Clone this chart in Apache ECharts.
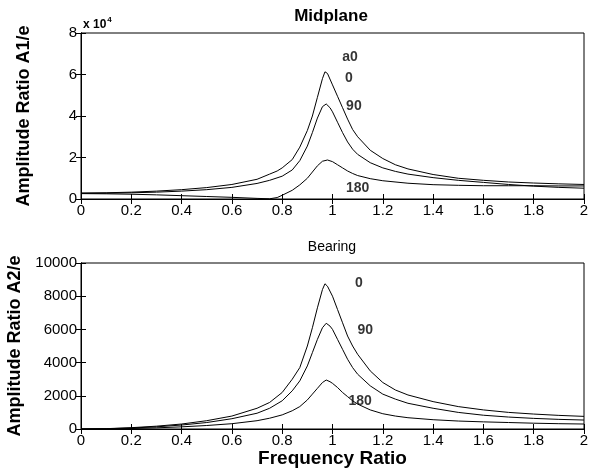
<!DOCTYPE html>
<html><head><meta charset="utf-8">
<script src="https://cdn.jsdelivr.net/npm/echarts@6/dist/echarts.min.js"></script>
<style>html,body{margin:0;padding:0;background:#fff}#c{width:591px;height:472px}</style>
</head><body><div id="c"></div>
<script>
// ---- Data ----
// Midplane (A1/e)
var midF0 = [0,0.1,0.2,0.3,0.4,0.5,0.6,0.7,0.75,0.78,0.8,0.84,0.87,0.9,0.92,0.94,0.96,0.97,0.98,1.0,1.02,1.04,1.06,1.08,1.1,1.15,1.2,1.25,1.3,1.4,1.5,1.6,1.7,1.8,1.9,2.0];
var mid0  = [2900,3000,3300,3800,4500,5500,7000,9500,12000,13500,15000,19000,25000,33000,40000,49000,58000,61300,60500,55000,49500,44000,38500,33500,30000,23500,19500,16500,14500,11800,10000,9000,8200,7700,7300,7000];
var midF90 = [0,0.1,0.2,0.3,0.4,0.5,0.6,0.7,0.75,0.8,0.84,0.87,0.9,0.92,0.94,0.96,0.975,0.99,1.0,1.02,1.04,1.06,1.08,1.1,1.15,1.2,1.25,1.3,1.4,1.5,1.6,1.7,1.8,1.9,2.0];
var mid90  = [2700,2800,3000,3300,3800,4500,5600,7500,9000,11000,14000,18500,25500,32000,39000,44500,45800,44000,42000,37000,32000,27500,24000,21500,17500,15000,13300,12000,10300,9000,8000,7000,6200,5600,5200];
var midF180 = [0,0.1,0.2,0.3,0.4,0.5,0.6,0.7,0.75,0.78,0.8,0.84,0.87,0.9,0.92,0.94,0.96,0.98,1.0,1.02,1.04,1.06,1.08,1.1,1.15,1.2,1.3,1.4,1.5,1.6,1.7,1.8,1.9,2.0];
var mid180  = [2600,2500,2300,2000,1600,1200,800,300,100,700,1800,4200,6800,10000,13000,16000,18200,18800,18000,16500,15000,13500,12300,11300,9800,8800,7600,6900,6600,6400,6400,6400,6300,6300];

// Bearing (A2/e)
var brgF0 = [0,0.1,0.2,0.3,0.4,0.5,0.6,0.7,0.75,0.8,0.84,0.87,0.9,0.92,0.94,0.96,0.97,0.98,1.0,1.02,1.04,1.06,1.08,1.1,1.15,1.2,1.25,1.3,1.4,1.5,1.6,1.7,1.8,1.9,2.0];
var brg0  = [0,20,80,170,300,500,780,1250,1600,2200,3000,3700,5000,6100,7300,8400,8750,8600,8000,7200,6400,5600,5000,4500,3500,2800,2350,2050,1650,1350,1150,1000,900,820,760];
var brgF90 = [0,0.1,0.2,0.3,0.4,0.5,0.6,0.7,0.75,0.8,0.84,0.87,0.9,0.92,0.94,0.96,0.975,0.99,1.0,1.02,1.04,1.06,1.08,1.1,1.15,1.2,1.25,1.3,1.4,1.5,1.6,1.7,1.8,1.9,2.0];
var brg90  = [0,15,60,130,240,390,620,950,1250,1700,2300,2900,3800,4600,5400,6100,6370,6200,6000,5400,4800,4200,3700,3300,2600,2100,1800,1550,1250,1000,830,720,640,580,540];
var brgF180 = [0,0.1,0.2,0.3,0.4,0.5,0.6,0.7,0.75,0.8,0.84,0.87,0.9,0.92,0.94,0.96,0.975,0.99,1.0,1.02,1.04,1.06,1.08,1.1,1.15,1.2,1.25,1.3,1.4,1.5,1.6,1.7,1.8,1.9,2.0];
var brg180  = [0,10,30,70,130,210,320,500,650,850,1100,1350,1750,2100,2450,2800,2950,2850,2750,2500,2200,1950,1700,1500,1150,920,780,680,560,480,430,390,350,320,300];

// Annotations [label, freq, value]
var midNotes = [["a0",1.07,68400],["0",1.065,58300],["90",1.085,44800],["180",1.1,5300]];
var brgNotes = [["0",1.105,8800],["90",1.13,5960],["180",1.11,1690]];

// Tick settings
var xTickStep = 0.2;
var midTickStep = 20000, midMax = 80000;
var brgTickStep = 2000, brgMax = 10000;

// ---- Chart ----
var FONT = "Liberation Sans, Arial, sans-serif";
function zip(a, b){ return a.map(function(v,i){ return [v, b[i]]; }); }
function line(name, xi, yi, f, v){
  return {type:'line', name:name, xAxisIndex:xi, yAxisIndex:yi, data:zip(f,v),
    showSymbol:false, symbol:'none', lineStyle:{color:'#000', width:1}, silent:true, animation:false, z:3};
}
function notes(xi, yi, arr){
  return {type:'scatter', xAxisIndex:xi, yAxisIndex:yi, symbolSize:0, silent:true, animation:false,
    data:arr.map(function(n){ return {value:[n[1], n[2]], label:{show:true, formatter:n[0]}}; }),
    label:{show:true, position:'inside', color:'#000', fontFamily:FONT, fontWeight:'bold', fontSize:14}};
}
function tickIn(){ return {show:true, inside:true, length:5, lineStyle:{color:'#000', width:1}}; }
function axLine(){ return {show:true, lineStyle:{color:'#000', width:1}}; }
function hiddenLabel(){ return {show:true, color:'rgba(0,0,0,0)', fontSize:1, margin:0, formatter:function(){ return ' '; }}; }
function xAxes(gi){
  return [
    {type:'value', gridIndex:gi, min:0, max:2, interval:xTickStep, axisLine:axLine(), axisTick:tickIn(),
     splitLine:{show:false}, axisLabel:{show:true, color:'#000', fontFamily:FONT, fontSize:15, margin:4,
     formatter:function(v){ return String(+v.toFixed(1)); }},
     name: gi===1 ? 'Frequency Ratio' : '', nameLocation:'middle', nameGap:16,
     nameTextStyle:{color:'#000', fontFamily:FONT, fontWeight:'bold', fontSize:19}},
    {type:'value', gridIndex:gi, position:'top', min:0, max:2, interval:xTickStep, axisLine:axLine(),
     axisTick:tickIn(), axisLabel:hiddenLabel(), splitLine:{show:false}}
  ];
}
function yAxes(gi, max, step, fmt, name){
  return [
    {type:'value', gridIndex:gi, min:0, max:max, interval:step, axisLine:axLine(), axisTick:tickIn(),
     splitLine:{show:false}, axisLabel:{show:true, color:'#000', fontFamily:FONT, fontSize:15, margin:4, formatter:fmt},
     name:name, nameLocation:'middle', nameGap:48,
     nameTextStyle:{color:'#000', fontFamily:FONT, fontWeight:'bold', fontSize:18}},
    {type:'value', gridIndex:gi, position:'right', min:0, max:max, interval:step, axisLine:axLine(),
     axisTick:tickIn(), axisLabel:hiddenLabel(), splitLine:{show:false}}
  ];
}
var chart = echarts.init(document.getElementById('c'), null, {renderer:'canvas'});
chart.setOption({
  backgroundColor:'#fff',
  animation:false,
  title:[
    {text:'Midplane', left:331, top:8, textAlign:'center', padding:0,
     textStyle:{fontFamily:FONT, fontWeight:'bold', fontSize:17, color:'#000'}},
    {text:'Bearing', left:332, top:240, textAlign:'center', padding:0,
     textStyle:{fontFamily:FONT, fontWeight:'normal', fontSize:14, color:'#000'}},
    {text:'{a|x 10}{s|4}', left:83, top:16, padding:0,
     textStyle:{rich:{a:{fontFamily:FONT, fontSize:12, color:'#000', verticalAlign:'bottom'},
                      s:{fontFamily:FONT, fontSize:8, color:'#000', verticalAlign:'top', padding:[0,0,7,1]}}}}
  ],
  grid:[
    {left:81, top:33, width:503, height:166, outerBoundsMode:'none', containLabel:false, show:true, borderColor:'#000', borderWidth:1, backgroundColor:'transparent'},
    {left:81, top:263, width:503, height:166, outerBoundsMode:'none', containLabel:false, show:true, borderColor:'#000', borderWidth:1, backgroundColor:'transparent'}
  ],
  xAxis: xAxes(0).concat(xAxes(1)),
  yAxis: yAxes(0, midMax, midTickStep, function(v){ return String(v/10000); }, 'Amplitude Ratio A1/e')
    .concat(yAxes(1, brgMax, brgTickStep, function(v){ return String(v); }, 'Amplitude Ratio A2/e')),
  series:[
    line('0', 0, 0, midF0, mid0),
    line('90', 0, 0, midF90, mid90),
    line('180', 0, 0, midF180, mid180),
    notes(0, 0, midNotes),
    line('0', 2, 2, brgF0, brg0),
    line('90', 2, 2, brgF90, brg90),
    line('180', 2, 2, brgF180, brg180),
    notes(2, 2, brgNotes)
  ]
});
</script></body></html>
